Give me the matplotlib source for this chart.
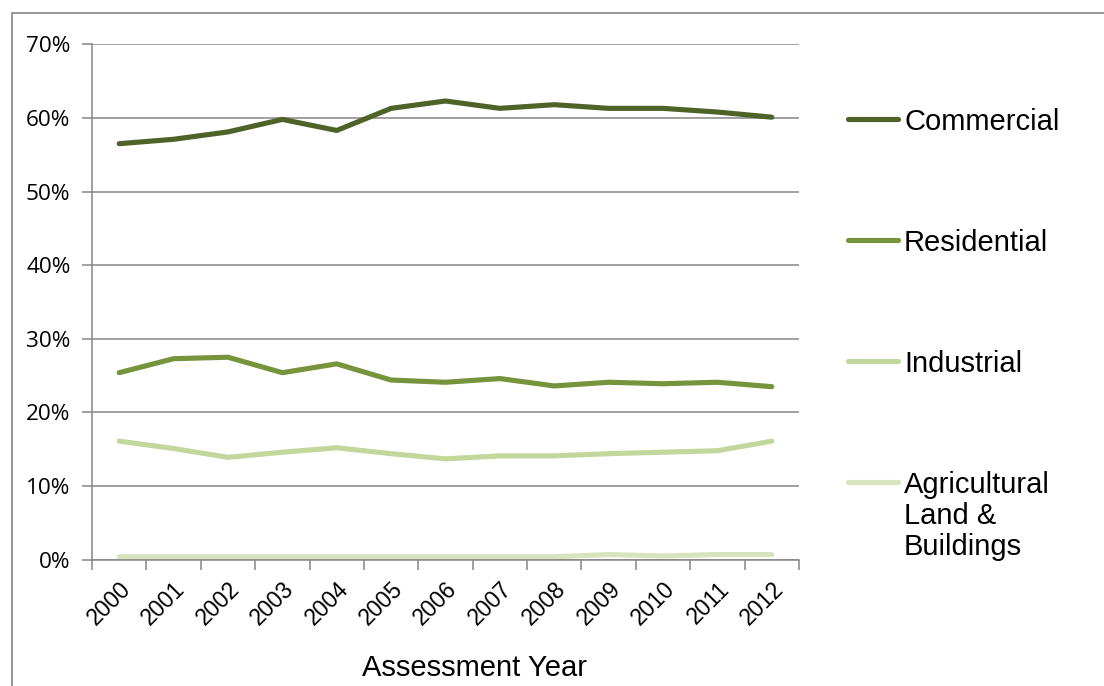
import matplotlib
matplotlib.use("Agg")
import matplotlib.pyplot as plt
from matplotlib.lines import Line2D
from matplotlib.patches import Rectangle
from matplotlib.ticker import FixedLocator, PercentFormatter

plt.rcParams["font.family"] = ["Liberation Sans", "DejaVu Sans"]

years = ["2000", "2001", "2002", "2003", "2004", "2005", "2006",
         "2007", "2008", "2009", "2010", "2011", "2012"]

commercial = [56.5, 57.1, 58.1, 59.8, 58.3, 61.3, 62.3, 61.3, 61.8, 61.3, 61.3, 60.8, 60.1]
residential = [25.4, 27.3, 27.5, 25.4, 26.6, 24.4, 24.1, 24.6, 23.6, 24.1, 23.9, 24.1, 23.5]
industrial = [16.1, 15.1, 13.9, 14.6, 15.2, 14.4, 13.7, 14.1, 14.1, 14.4, 14.6, 14.8, 16.1]
agricultural = [0.4, 0.4, 0.4, 0.4, 0.4, 0.4, 0.4, 0.4, 0.4, 0.7, 0.5, 0.7, 0.7]

series = [
    ("Commercial", commercial, "#4F6228"),
    ("Residential", residential, "#77933C"),
    ("Industrial", industrial, "#C3D69B"),
    ("Agricultural\nLand &\nBuildings", agricultural, "#D7E4BD"),
]

GRID = "#868686"
W, H = 1104, 686

fig = plt.figure(figsize=(W / 100, H / 100), dpi=100)
ax = fig.add_axes([92 / W, 1 - 559.7 / H, (799 - 92) / W, (559.7 - 44.3) / H])

x = list(range(len(years)))
for label, vals, color in series:
    ax.plot(x, vals, color=color, lw=3.7, solid_capstyle="round",
            solid_joinstyle="round")

ax.set_xlim(-0.5, len(years) - 0.5)
ax.set_ylim(0, 70)
ax.set_yticks(range(0, 71, 10))
ax.yaxis.set_major_formatter(PercentFormatter(decimals=0))
ax.grid(axis="y", color=GRID, lw=1.1)
ax.set_axisbelow(True)

# category labels at centres, tick marks on the boundaries
ax.set_xticks(x)
ax.set_xticklabels(years, rotation=45, ha="right", rotation_mode="anchor")
ax.xaxis.set_minor_locator(FixedLocator([i - 0.5 for i in range(len(years) + 1)]))
ax.tick_params(axis="x", which="major", length=0, pad=13, labelsize=16.5)
ax.tick_params(axis="x", which="minor", length=7, width=1.1, color=GRID)
ax.tick_params(axis="y", length=7, width=1.1, color=GRID, pad=8.5, labelsize=16.2)
for t in ax.get_yticklabels():
    t.set_family(["Open Sans", "DejaVu Sans"])

for side in ("top", "right"):
    ax.spines[side].set_visible(False)
for side in ("left", "bottom"):
    ax.spines[side].set_color(GRID)
    ax.spines[side].set_linewidth(1.1)

fig.text(474 / W, 1 - 668 / H, "Assessment Year", fontsize=21,
         ha="center", va="center")

# legend drawn beside the plot area; y is the first line's baseline in px
baselines = [129.3, 250, 371, 491.7]
for (label, vals, color), base in zip(series, baselines):
    yl = 1 - (base - 10) / H
    fig.add_artist(Line2D([848 / W, 898 / W], [yl, yl], color=color, lw=3.7,
                          solid_capstyle="round", transform=fig.transFigure))
    fig.text(904 / W, 1 - (base - 21) / H, label, fontsize=21, ha="left",
             va="top", linespacing=1.14)

# chart frame
fig.add_artist(Rectangle((12 / W, -0.2), 1.2, 1.2 - 13 / H, fill=False,
                         edgecolor=GRID, lw=1.2, transform=fig.transFigure))

fig.savefig("out.png", dpi=100)
